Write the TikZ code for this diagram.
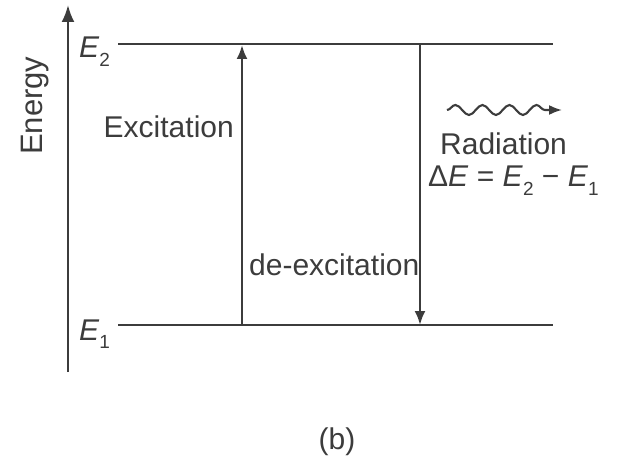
\documentclass[tikz,border=0pt]{standalone}
\usepackage{fontspec}
\setmainfont{Liberation Sans}
\usetikzlibrary{arrows.meta,decorations.pathmorphing}
\definecolor{ink}{HTML}{3C3C3C}
\newcommand{\sbs}[1]{\raisebox{-0.28em}{\fontsize{19}{22}\selectfont #1}}
\begin{document}
\begin{tikzpicture}[x=1pt,y=-1pt,
  lbl/.style={font=\fontsize{30}{35}\selectfont, text=ink, inner sep=0pt},
  level/.style={draw=ink, line width=2.8pt},
  trans/.style={draw=ink, line width=2.4pt, -{Latex[length=14pt,width=11pt]}}]
\useasboundingbox (0,0) rectangle (623,462);
% axis
\coordinate (ax0) at (68,372);
\coordinate (ax1) at (68,5);
\draw[ink, line width=2.4pt, -{Latex[length=17pt,width=13pt]}] (ax0) -- (ax1);
\node[lbl, rotate=90, anchor=base west, font=\fontsize{31}{36}\selectfont] (energy) at (42,155) {Energy};
% levels
\coordinate (e2a) at (118,44); \coordinate (e2b) at (553,44);
\coordinate (e1a) at (118,325); \coordinate (e1b) at (553,325);
\draw[level] (e2a) -- (e2b);
\draw[level] (e1a) -- (e1b);
\node[lbl, anchor=base west] (E2) at (79,58) {\textit{E}\sbs{2}};
\node[lbl, anchor=base west] (E1) at (79,340) {\textit{E}\sbs{1}};
% transitions
\coordinate (exb) at (242,325); \coordinate (ext) at (242,45);
\coordinate (deb) at (420,325); \coordinate (det) at (420,44);
\draw[trans] (exb) -- (ext);
\draw[trans] (det) -- (deb);
\node[lbl, anchor=base east] (exc) at (234,138) {Excitation};
\node[lbl, anchor=base west] (dexc) at (249,275) {de-excitation};
% radiation
\coordinate (w0) at (447,110); \coordinate (w1) at (562,110);
\draw[ink, line width=2.1pt, -{Latex[length=13pt,width=10pt]},
  decorate, decoration={snake, amplitude=5pt, segment length=27pt, post length=14pt}] (w0) -- (w1);
\node[lbl, anchor=base west] (rad) at (440,155) {Radiation};
\node[lbl, anchor=base west] (de) at (428,187) {Δ\textit{E} = \textit{E}\sbs{2} − \textit{E}\sbs{1}};
\node[lbl, anchor=center] (b) at (337,442) {(b)};
\end{tikzpicture}
\end{document}
